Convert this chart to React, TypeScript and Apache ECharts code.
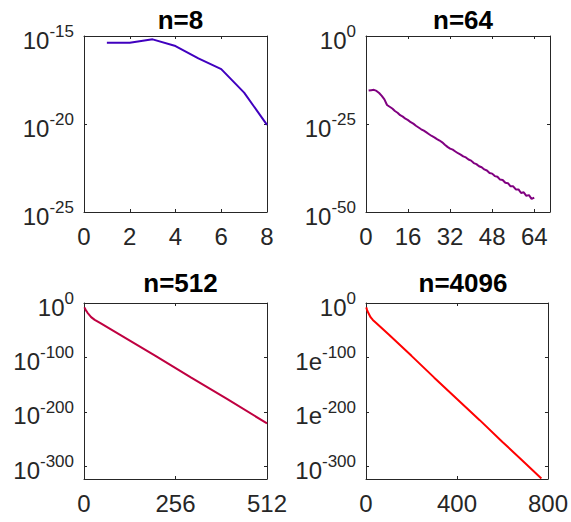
import React, { useEffect, useRef } from "react";
import * as echarts from "echarts";

// ---- data (log10 of the plotted values) ----
const titles = ["n=8", "n=64", "n=512", "n=4096"];
const colors = ["#4000BF", "#800080", "#BF0040", "#FF0000"];

const x8 = [1, 2, 3, 4, 5, 6, 7, 8];
const y8 = [-15.38, -15.38, -15.19, -15.57, -16.27, -16.88, -18.22, -20.05];

const x64 = [
  1, 2, 3, 4, 5, 6, 7, 8, 9, 10, 11, 12, 13, 14, 15, 16, 17, 18, 19, 20, 21, 22, 23, 24, 25, 26, 27, 28, 29, 30, 31, 32,
  33, 34, 35, 36, 37, 38, 39, 40, 41, 42, 43, 44, 45, 46, 47, 48, 49, 50, 51, 52, 53, 54, 55, 56, 57, 58, 59, 60, 61, 62, 63, 64,
];
const y64 = [
  -15.5, -15.4, -15.3, -15.6, -16.2, -17.0, -18.0, -19.6, -20.1, -20.6, -21.3, -21.8, -22.5, -22.9, -23.5, -23.9,
  -24.5, -24.9, -25.5, -26.0, -26.5, -26.9, -27.4, -27.9, -28.4, -28.8, -29.3, -29.7, -30.2, -30.9, -31.5, -32.0,
  -32.3, -32.8, -33.3, -33.7, -34.2, -34.5, -35.1, -35.4, -36.1, -36.4, -37.0, -37.3, -37.9, -38.2, -38.9, -39.1,
  -39.8, -40.0, -40.8, -40.9, -41.7, -41.8, -42.7, -42.7, -43.6, -43.6, -44.6, -44.4, -45.4, -45.2, -46.3, -45.9,
];

const x512 = [1, 5, 10, 20, 30, 46, 100, 200, 300, 400, 512];
const y512 = [-8, -13, -18, -26, -31, -37, -58, -97, -137, -176, -221];

const x4096 = [1, 5, 10, 20, 30, 46, 100, 200, 300, 400, 500, 600, 700, 771];
const y4096 = [-8, -13, -18, -26, -31, -37, -58, -97, -137, -176, -215, -255, -294, -322];

const xTicks = [
  [0, 2, 4, 6, 8],
  [0, 16, 32, 48, 64],
  [0, 256, 512],
  [0, 400, 800],
];
const xMax = [8, 70, 512, 800];

const yTicks = [
  [-25, -20, -15],
  [-50, -25, 0],
  [-300, -200, -100, 0],
  [-300, -200, -100, 0],
];
const yMin = [-25, -50, -323, -323];
const yMax = [-15, 0, 0, 0];
// tick label bases (superscript = exponent)
const yBases = [
  ["10", "10", "10"],
  ["10", "10", "10"],
  ["10", "10", "10", "10"],
  ["10", "1e", "1e", "10"],
];

const FONT = "Liberation Sans";

export default function App() {
  const ref = useRef<HTMLDivElement>(null);
  useEffect(() => {
    if (!ref.current) return;
    const chart = echarts.init(ref.current, null, { renderer: "svg" });

    const grids = [
      { left: 84, top: 36, width: 183, height: 176 },
      { left: 366, top: 36, width: 184, height: 176 },
      { left: 84, top: 303, width: 183, height: 176 },
      { left: 366, top: 303, width: 184, height: 176 },
    ];
    const xs = [x8, x64, x512, x4096];
    const ys = [y8, y64, y512, y4096];

    const axisLine = { show: true, onZero: false, lineStyle: { color: "#262626", width: 1 } };
    const xAxes: any[] = [];
    const yAxes: any[] = [];
    const series: any[] = [];
    const titleArr: any[] = [];

    grids.forEach((g, i) => {
      const tickX = { show: true, inside: true, length: 3, customValues: xTicks[i], lineStyle: { color: "#262626" } };
      xAxes.push({
        type: "value", gridIndex: i, position: "bottom", min: 0, max: xMax[i],
        axisLine, axisTick: tickX, splitLine: { show: false },
        axisLabel: {
          customValues: xTicks[i], margin: 12, color: "#262626", fontSize: 24, fontFamily: FONT,
          showMinLabel: true, showMaxLabel: true,
        },
      });
      xAxes.push({
        type: "value", gridIndex: i, position: "top", min: 0, max: xMax[i],
        axisLine, axisTick: tickX, splitLine: { show: false }, axisLabel: { show: false },
      });
      const tickY = { show: true, inside: true, length: 3, customValues: yTicks[i], lineStyle: { color: "#262626" } };
      const bases = yBases[i];
      const ticks = yTicks[i];
      yAxes.push({
        type: "value", gridIndex: i, position: "left", min: yMin[i], max: yMax[i],
        axisLine, axisTick: tickY, splitLine: { show: false },
        axisLabel: {
          customValues: ticks, margin: 10, color: "#262626", fontFamily: FONT,
          showMinLabel: true, showMaxLabel: true,
          padding: [8, 0, 0, 0],
          formatter: (v: number) => {
            const k = ticks.indexOf(Math.round(v));
            const b = k >= 0 ? bases[k] : "10";
            return `{b|${b}}{s|${Math.round(v)}}`;
          },
          rich: {
            b: { fontSize: 24, fontFamily: FONT, color: "#262626", verticalAlign: "bottom", lineHeight: 24 },
            s: { fontSize: 17, fontFamily: FONT, color: "#262626", verticalAlign: "bottom", lineHeight: 17, padding: [0, 0, 12, 0] },
          },
        },
      });
      yAxes.push({
        type: "value", gridIndex: i, position: "right", min: yMin[i], max: yMax[i],
        axisLine, axisTick: tickY, splitLine: { show: false }, axisLabel: { show: false },
      });
      series.push({
        type: "line", xAxisIndex: 2 * i, yAxisIndex: 2 * i,
        data: xs[i].map((x, k) => [x, ys[i][k]]),
        showSymbol: false, symbol: "none",
        lineStyle: { color: colors[i], width: 2 },
        itemStyle: { color: colors[i] },
      });
      titleArr.push({
        text: titles[i], left: g.left + g.width / 2, top: i < 2 ? 2 : 265, textAlign: "center",
        textStyle: { fontSize: 26, fontWeight: "bold", fontFamily: FONT, color: "#000" },
      });
    });

    chart.setOption({
      animation: false,
      backgroundColor: "#fff",
      title: titleArr,
      grid: grids,
      xAxis: xAxes,
      yAxis: yAxes,
      series,
    });
    return () => chart.dispose();
  }, []);
  return <div ref={ref} style={{ position: "absolute", left: 0, top: 0, width: 571, height: 522 }} />;
}
